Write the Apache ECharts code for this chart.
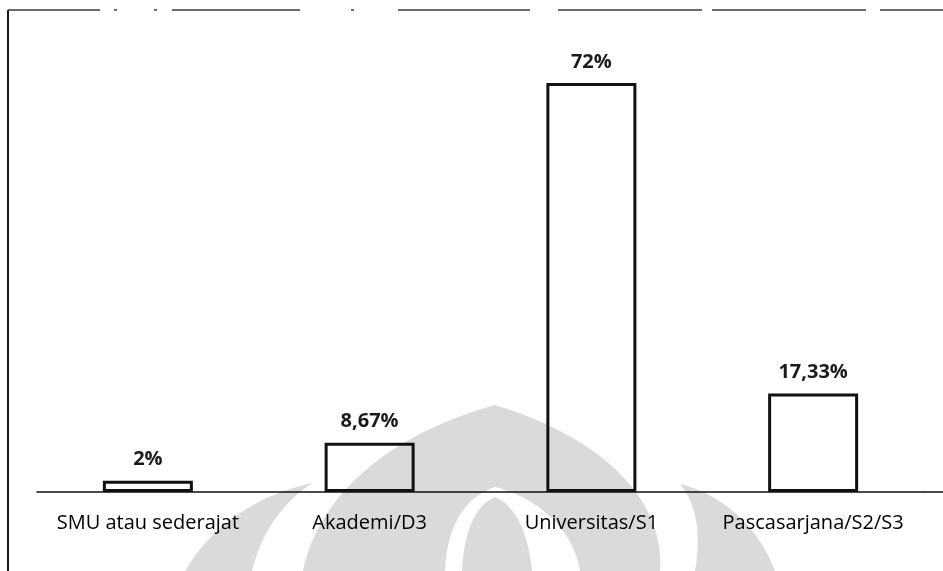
<!DOCTYPE html>
<html>
<head>
<meta charset="utf-8">
<title>Tingkat Pendidikan</title>
<script src="https://cdn.jsdelivr.net/npm/echarts@6/dist/echarts.min.js"></script>
<style>
  html, body { margin: 0; padding: 0; background: #ffffff; }
  #chart { width: 943px; height: 571px; }
</style>
</head>
<body>
<div id="chart"></div>
<script>
// Education level of respondents (percent)
const categories = ['SMU atau sederajat', 'Akademi/D3', 'Universitas/S1', 'Pascasarjana/S2/S3'];
const values = [2, 8.67, 72, 17.33];

const chart = echarts.init(document.getElementById('chart'), null, { renderer: 'canvas' });

const wmColor = '#dadada';

// Turn a start point plus cubic Bezier segments into a polygon outline
function bezierOutline(start, segs) {
  const pts = [start];
  let p0 = start;
  segs.forEach(function (s) {
    const c1 = s[0], c2 = s[1], p3 = s[2];
    for (let i = 1; i <= 24; i++) {
      const t = i / 24, u = 1 - t;
      pts.push([
        u * u * u * p0[0] + 3 * u * u * t * c1[0] + 3 * u * t * t * c2[0] + t * t * t * p3[0],
        u * u * u * p0[1] + 3 * u * u * t * c1[1] + 3 * u * t * t * c2[1] + t * t * t * p3[1]
      ]);
    }
    p0 = p3;
  });
  return pts;
}

function wmShape(points, fill) {
  return { type: 'polygon', shape: { points: points }, style: { fill: fill }, silent: true, z: -10 };
}

// Faint emblem printed behind the chart
const watermark = [
  wmShape(bezierOutline([185, 571], [[[210, 528], [255, 495], [313, 483]], [[285, 500], [262, 530], [252, 571]]]), wmColor),
  wmShape(bezierOutline([303, 571], [[[315, 510], [370, 440], [495, 405]], [[610, 440], [665, 505], [660, 571]]]), wmColor),
  wmShape(bezierOutline([445, 571], [[[447, 525], [465, 497], [495, 487]], [[528, 495], [572, 522], [580, 571]]]), '#ffffff'),
  wmShape(bezierOutline([462, 571], [[[464, 532], [475, 505], [495, 497]], [[515, 505], [528, 532], [532, 571]]]), wmColor),
  wmShape(bezierOutline([695, 571], [[[702, 530], [695, 502], [680, 484]], [[725, 495], [760, 530], [775, 571]]]), wmColor)
];

// Frame: solid left edge, broken top edge
const topSegments = [[8, 100], [114, 117], [154, 157], [172, 300], [351, 354], [398, 530], [558, 702], [712, 866], [880, 943]];
const frame = [
  { type: 'line', shape: { x1: 8, y1: 10, x2: 8, y2: 571 }, style: { stroke: '#1a1a1a', lineWidth: 2 } }
].concat(topSegments.map(function (s) {
  return { type: 'line', shape: { x1: s[0], y1: 10, x2: s[1], y2: 10 }, style: { stroke: '#3a3a3a', lineWidth: 1.5 } };
}));

const option = {
  backgroundColor: '#ffffff',
  animation: false,
  grid: { left: 37, right: 19, top: 37.6, bottom: 79, containLabel: false },
  xAxis: {
    type: 'category',
    data: categories,
    axisLine: { show: true, lineStyle: { color: '#111111', width: 1.5 } },
    axisTick: { show: false },
    axisLabel: {
      margin: 21,
      color: '#000000',
      fontFamily: 'Open Sans',
      fontWeight: 500,
      fontSize: 20,
      interval: 0
    }
  },
  yAxis: {
    type: 'value',
    min: 0,
    max: 80,
    show: false,
    splitLine: { show: false }
  },
  series: [{
    type: 'bar',
    data: values,
    barWidth: 90,
    itemStyle: {
      color: 'rgba(255,255,255,0)',
      borderColor: '#111111',
      borderWidth: 3
    },
    label: {
      show: true,
      position: 'top',
      distance: 11,
      color: '#1a1a1a',
      fontFamily: 'Open Sans',
      fontWeight: 'bold',
      fontSize: 20,
      formatter: function (p) { return String(p.value).replace('.', ',') + '%'; }
    }
  }],
  graphic: watermark.concat(frame).concat([
    { type: 'line', shape: { x1: 924, y1: 492, x2: 943, y2: 492 }, style: { stroke: '#111111', lineWidth: 1.5 } }
  ])
};

chart.setOption(option);
</script>
</body>
</html>
